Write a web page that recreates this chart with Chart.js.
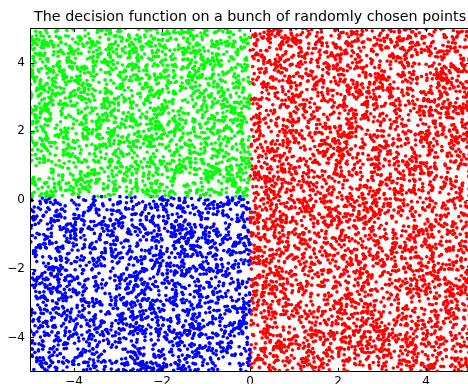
<!DOCTYPE html>
<html>
<head>
<meta charset="utf-8">
<script src="https://cdn.jsdelivr.net/npm/chart.js@4"></script>
<style>
  html, body { margin: 0; padding: 0; background: #fff; overflow: hidden; }
  canvas { display: block; }
</style>
</head>
<body>
<canvas id="chart" width="472" height="384"></canvas>
<script>
const titleText = 'The decision function on a bunch of randomly chosen points';
const xRange = [-5, 5];
const yRange = [-5, 5];
const xTicks = [-4, -2, 0, 2, 4];
const yTicks = [-4, -2, 0, 2, 4];
const classNames = ['x < 0, y > 0', 'x < 0, y < 0', 'x > 0'];
const classColors = ['#00ff00', '#0000ff', '#ff0000'];
const pointCount = 9000;
const xBoundary = 0;
const yBoundary = 0.1;

// The points in the original are random draws, so they can't be read off one by one.
// A seeded generator keeps the cloud identical between renders.
const mulberry32 = (seed) => () => {
  seed |= 0; seed = seed + 0x6D2B79F5 | 0;
  let t = Math.imul(seed ^ seed >>> 15, 1 | seed);
  t = t + Math.imul(t ^ t >>> 7, 61 | t) ^ t;
  return ((t ^ t >>> 14) >>> 0) / 4294967296;
};
const rand = mulberry32(12345);

// decision function: which class a point falls in
const classify = (x, y) => {
  if (x > xBoundary) return 2;
  return y > yBoundary ? 0 : 1;
};

const groups = [[], [], []];
for (let i = 0; i < pointCount; i++) {
  const x = xRange[0] + rand() * (xRange[1] - xRange[0]);
  const y = yRange[0] + rand() * (yRange[1] - yRange[0]);
  groups[classify(x, y)].push({ x, y });
}

const minus = v => String(v).replace('-', '\u2212');
const tickFont = { family: 'DejaVu Sans', size: 12 };

// matplotlib-style frame with inward ticks on every side
const framePlugin = {
  id: 'frame',
  afterDatasetsDraw(chart) {
    const { ctx, chartArea: a, scales } = chart;
    ctx.save();
    ctx.strokeStyle = '#000';
    ctx.lineWidth = 1;
    ctx.strokeRect(Math.round(a.left) + 0.5, Math.round(a.top) + 0.5,
      Math.round(a.right - a.left) - 1, Math.round(a.bottom - a.top) - 1);
    ctx.beginPath();
    xTicks.forEach(v => {
      const px = Math.round(scales.x.getPixelForValue(v)) + 0.5;
      ctx.moveTo(px, a.bottom); ctx.lineTo(px, a.bottom - 4);
      ctx.moveTo(px, a.top); ctx.lineTo(px, a.top + 4);
    });
    yTicks.forEach(v => {
      const py = Math.round(scales.y.getPixelForValue(v)) + 0.5;
      ctx.moveTo(a.left, py); ctx.lineTo(a.left + 4, py);
      ctx.moveTo(a.right, py); ctx.lineTo(a.right - 4, py);
    });
    ctx.stroke();
    ctx.restore();
  }
};

const ctx = document.getElementById('chart').getContext('2d');
new Chart(ctx, {
  type: 'scatter',
  data: {
    datasets: classNames.map((name, i) => ({
      label: name,
      data: groups[i],
      backgroundColor: classColors[i],
      pointRadius: 1.8,
      pointBorderWidth: 0,
      pointHoverRadius: 0,
      clip: 0
    }))
  },
  options: {
    responsive: false,
    animation: false,
    events: [],
    layout: { padding: { left: 0, right: 1, top: 0, bottom: 0 } },
    scales: {
      x: {
        min: xRange[0],
        max: xRange[1],
        afterBuildTicks: s => { s.ticks = xTicks.map(v => ({ value: v })); },
        afterFit: s => { s.height = 12; },
        grid: { display: false, drawTicks: false },
        border: { display: false },
        ticks: { padding: 3, color: '#000', font: tickFont, maxRotation: 0, callback: minus }
      },
      y: {
        min: yRange[0],
        max: yRange[1],
        afterBuildTicks: s => { s.ticks = yTicks.map(v => ({ value: v })); },
        afterFit: s => { s.width = 30; },
        grid: { display: false, drawTicks: false },
        border: { display: false },
        ticks: { padding: 5, color: '#000', font: tickFont, callback: minus }
      }
    },
    plugins: {
      legend: { display: false },
      tooltip: { enabled: false },
      title: {
        display: true,
        text: titleText,
        fullSize: false,
        color: '#000',
        font: { family: 'DejaVu Sans', size: 14.3, weight: 'normal' },
        padding: { top: 9, bottom: 2 }
      }
    }
  },
  plugins: [framePlugin]
});
</script>
</body>
</html>
